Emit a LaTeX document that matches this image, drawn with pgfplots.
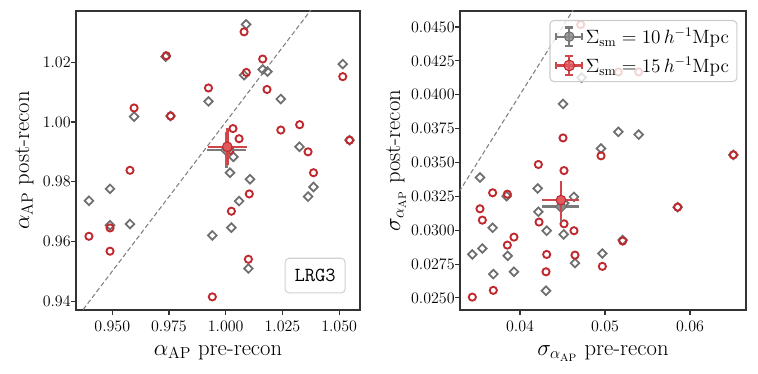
\documentclass[border=0pt]{standalone}
\usepackage{pgfplots}
\pgfplotsset{compat=1.18}
\usetikzlibrary{calc}

\definecolor{cred}{HTML}{C0282D}
\definecolor{credfill}{HTML}{E05A5E}
\definecolor{credbar}{HTML}{D0454A}
\definecolor{cgray}{HTML}{6E6E6E}
\definecolor{cgrayfill}{HTML}{8A8A8A}
\definecolor{cgraybar}{HTML}{7A7A7A}

\pgfplotsset{
  panel/.style={
    scale only axis,
    height=224.25pt,
    axis line style={line width=0.8pt, black!80},
    tick align=outside,
    xtick pos=lower, ytick pos=left,
    major tick length=3.5pt,
    tick style={line width=0.8pt, black!80},
    tick label style={font=\fontsize{12.3}{14}\selectfont},
    xticklabel style={yshift=-1pt},
    yticklabel style={xshift=3pt},
    label style={font=\fontsize{17}{20}\selectfont},
    xlabel style={yshift=-4pt},
    scaled ticks=false,
    clip mode=individual,
  },
  gdiam/.style={only marks, mark=square, mark size=2.3pt,
    mark options={rotate=45, draw=cgray, fill=none, line width=1.3pt}},
  rcirc/.style={only marks, mark=o, mark size=2.7pt,
    mark options={draw=cred, fill=none, line width=1.4pt}},
  diag/.style={no marks, dashed, dash pattern=on 3.5pt off 2pt, line width=0.8pt, black!50},
  gmean/.style={only marks, mark=square*, mark size=3pt, forget plot,
    mark options={rotate=45, draw=cgray, fill=cgrayfill, line width=0.8pt},
    error bars/.cd, x dir=both, y dir=both, x explicit, y explicit,
    error bar style={line width=1.9pt, cgraybar},
    error mark options={line width=1.9pt, cgraybar, mark size=3.5pt}},
  rmean/.style={only marks, mark=*, mark size=3.6pt, forget plot,
    mark options={draw=cred, fill=credfill, line width=0.8pt},
    error bars/.cd, x dir=both, y dir=both, x explicit, y explicit,
    error bar style={line width=1.9pt, credbar},
    error mark options={line width=1.9pt, credbar, mark size=3.5pt}},
}

\begin{document}
\begin{tikzpicture}
\useasboundingbox (-57pt,-48pt) rectangle (511.5pt,232.5pt);

% left: alpha_AP
\begin{axis}[panel,
  at={(0pt,0pt)}, anchor=south west,
  width=213pt,
  xmin=0.934, xmax=1.0592, ymin=0.937, ymax=1.0372,
  xtick={0.95,0.975,1.0,1.025,1.05},
  ytick={0.94,0.96,0.98,1.00,1.02},
  xticklabel style={/pgf/number format/.cd, fixed, fixed zerofill, precision=3},
  yticklabel style={/pgf/number format/.cd, fixed, fixed zerofill, precision=2},
  xlabel={$\alpha_{\mathrm{AP}}$ pre-recon},
  ylabel={$\alpha_{\mathrm{AP}}$ post-recon},
]
\addplot[diag] coordinates {(0.90,0.90) (1.10,1.10)};
\addplot[gdiam] coordinates {
(1.0090,1.0327) (0.9735,1.0219) (1.0163,1.0176) (1.0184,1.0169) (1.0081,1.0157)
(1.0516,1.0194) (0.9924,1.0069) (1.0243,1.0077) (0.9596,1.0018) (0.9757,1.0020)
(1.0546,0.9939) (1.0325,0.9917) (1.0034,0.9883) (1.0019,0.9830) (1.0107,0.9808)
(0.9490,0.9776) (0.9397,0.9736) (1.0059,0.9735) (1.0387,0.9782) (1.0363,0.9750)
(0.9490,0.9654) (0.9578,0.9658) (1.0025,0.9646) (0.9941,0.9620) (1.0100,0.9509)
};
\addplot[rcirc] coordinates {
(1.0081,1.0302) (0.9738,1.0222) (1.0163,1.0211) (1.0091,1.0166) (1.0516,1.0152)
(0.9924,1.0114) (1.0182,1.0109) (0.9596,1.0047) (0.9757,1.0020) (1.0032,0.9978)
(1.0059,0.9944) (1.0243,0.9973) (1.0326,0.9991) (1.0546,0.9939) (1.0363,0.9900)
(1.0387,0.9830) (0.9578,0.9838) (1.0104,0.9759) (1.0025,0.9701) (0.9397,0.9617)
(0.9490,0.9645) (0.9490,0.9567) (1.0100,0.9540) (0.9941,0.9414) (1.0019,0.9905)
};
\addplot[gmean] coordinates {(1.0003,0.9906) +- (0.0065,0.0045)};
\addplot[rmean] coordinates {(1.0007,0.9917) +- (0.0065,0.0046)};
\node[draw=black!18, line width=0.8pt, rounded corners=3pt, fill=white,
  minimum width=45pt, minimum height=26pt, inner sep=2pt,
  font=\fontsize{15}{18}\selectfont\ttfamily]
  at (rel axis cs:0.842,0.115) {LRG3};
\end{axis}

% right: sigma_alpha_AP
\begin{axis}[panel,
  at={(288pt,0pt)}, anchor=south west,
  width=214.5pt,
  xmin=0.03294, xmax=0.06659, ymin=0.02411, ymax=0.04618,
  xtick={0.04,0.05,0.06},
  ytick={0.025,0.0275,0.03,0.0325,0.035,0.0375,0.04,0.0425,0.045},
  xticklabel style={/pgf/number format/.cd, fixed, fixed zerofill, precision=2},
  yticklabel style={/pgf/number format/.cd, fixed, fixed zerofill, precision=4},
  ylabel style={yshift=-3pt},
  xlabel={$\sigma_{\alpha_{\mathrm{AP}}}$ pre-recon},
  ylabel={$\sigma_{\alpha_{\mathrm{AP}}}$ post-recon},
  legend cell align=left,
  legend style={at={(0.97,0.97)}, anchor=north east,
    draw=black!20, line width=0.8pt, rounded corners=3pt,
    fill=white, fill opacity=0.8, draw opacity=1, text opacity=1,
    font=\fontsize{14}{17}\selectfont,
    inner xsep=4pt, inner ysep=3.5pt, row sep=4.5pt},
]
\addplot[diag, forget plot] coordinates {(0.02,0.02) (0.07,0.07)};
\addplot[gdiam, forget plot] coordinates {
(0.04725,0.04126) (0.04506,0.03932) (0.05157,0.03726) (0.05396,0.03706) (0.04953,0.03603)
(0.03529,0.03389) (0.04208,0.03308) (0.04635,0.03246) (0.03843,0.03251) (0.04216,0.03136)
(0.03678,0.03018) (0.04314,0.02996) (0.04514,0.02969) (0.05208,0.02927) (0.03557,0.02865)
(0.03439,0.02821) (0.03855,0.02811) (0.04969,0.02828) (0.04647,0.02757) (0.03686,0.02676)
(0.03929,0.02693) (0.04306,0.02553) (0.05855,0.03170) (0.06510,0.03556) (0.04520,0.03200)
};
\addplot[rcirc, forget plot] coordinates {
(0.04714,0.04518) (0.05157,0.04168) (0.05396,0.04168) (0.04506,0.03681) (0.04953,0.03549)
(0.04216,0.03485) (0.04518,0.03440) (0.03678,0.03276) (0.03851,0.03266) (0.03529,0.03158)
(0.03557,0.03074) (0.04224,0.03060) (0.04518,0.03047) (0.04635,0.02996) (0.03929,0.02949)
(0.03851,0.02890) (0.04314,0.02821) (0.04647,0.02816) (0.04306,0.02693) (0.04969,0.02733)
(0.05208,0.02920) (0.03686,0.02556) (0.03439,0.02506) (0.05855,0.03170) (0.06510,0.03556)
};
\addplot[gmean] coordinates {(0.04482,0.03173) +- (0.00163,0.00080)};
\addplot[rmean] coordinates {(0.04482,0.03222) +- (0.00163,0.00105)};
\addlegendimage{legend image code/.code={
  \draw[cgraybar, line width=1.6pt] (-0.06cm,0cm) -- (0.62cm,0cm);
  \draw[cgraybar, line width=1.6pt] (0.28cm,-0.24cm) -- (0.28cm,0.24cm);
  \draw[cgraybar, line width=1.6pt] (-0.06cm,-0.1cm) -- (-0.06cm,0.1cm) (0.62cm,-0.1cm) -- (0.62cm,0.1cm)
    (0.18cm,-0.24cm) -- (0.38cm,-0.24cm) (0.18cm,0.24cm) -- (0.38cm,0.24cm);
  \draw[draw=cgray, fill=cgrayfill, line width=0.8pt]
    (0.28cm,0.17cm) -- (0.45cm,0cm) -- (0.28cm,-0.17cm) -- (0.11cm,0cm) -- cycle;
}}
\addlegendentry{$\Sigma_{\mathrm{sm}}=10\,h^{-1}\mathrm{Mpc}$}
\addlegendimage{legend image code/.code={
  \draw[credbar, line width=1.6pt] (-0.06cm,0cm) -- (0.62cm,0cm);
  \draw[credbar, line width=1.6pt] (0.28cm,-0.24cm) -- (0.28cm,0.24cm);
  \draw[credbar, line width=1.6pt] (-0.06cm,-0.1cm) -- (-0.06cm,0.1cm) (0.62cm,-0.1cm) -- (0.62cm,0.1cm)
    (0.18cm,-0.24cm) -- (0.38cm,-0.24cm) (0.18cm,0.24cm) -- (0.38cm,0.24cm);
  \draw[draw=cred, fill=credfill, line width=0.8pt] (0.28cm,0cm) circle (0.14cm);
}}
\addlegendentry{$\Sigma_{\mathrm{sm}}=15\,h^{-1}\mathrm{Mpc}$}
\end{axis}
\end{tikzpicture}
\end{document}
